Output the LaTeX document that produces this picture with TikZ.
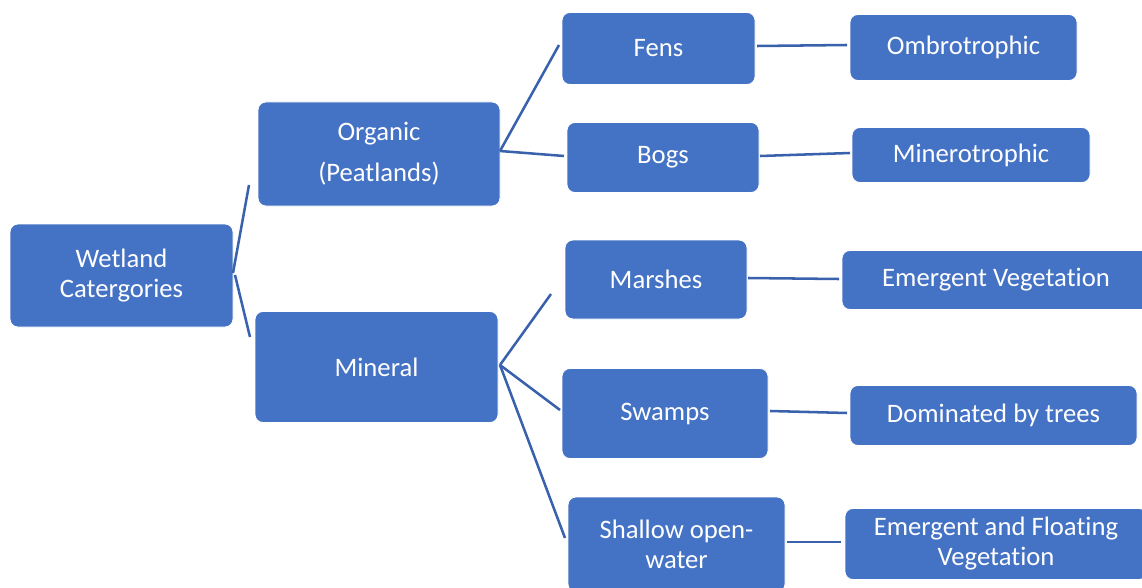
\documentclass[tikz,border=0pt]{standalone}
\usepackage{fontspec}
\setmainfont[Ligatures={NoCommon}]{Carlito}
\definecolor{boxblue}{HTML}{4472C4}
\definecolor{linkblue}{HTML}{3A62AC}
\begin{document}
\begin{tikzpicture}[x=0.75pt,y=-0.75pt,
  box/.style={fill=boxblue,draw=white,line width=0.6pt,rounded corners=6pt,
    text=white,align=center,inner sep=0pt,font=\fontsize{20pt}{22.5pt}\selectfont},
  link/.style={draw=linkblue,line width=1.9pt}]
\useasboundingbox (0,0) rectangle (1142,588);
% level 0
\node[box,minimum width=167.25pt,minimum height=77.25pt] (wet) at (121.5,275.5) {Wetland\\Catergories};
% level 1
\node[box,minimum width=181.5pt,minimum height=78pt,font=\fontsize{20pt}{30.75pt}\selectfont] (org) at (379,154) {Organic\\(Peatlands)};
\node[box,minimum width=182.25pt,minimum height=83.25pt] (min) at (376.5,367) {Mineral};
% level 2
\node[box,minimum width=144.75pt,minimum height=54pt] (fens) at (658.5,48.5) {Fens};
\node[box,minimum width=144pt,minimum height=52.5pt] (bogs) at (663,157.5) {Bogs};
\node[box,minimum width=136.5pt,minimum height=59.25pt] (mar) at (656,279.5) {Marshes};
\node[box,minimum width=154.5pt,minimum height=67.5pt] (swa) at (665,413.5) {Swamps};
\node[box,minimum width=162.75pt,minimum height=71.25pt] (sha) at (676.5,544.5) {};
\node[text=white,align=center,inner sep=0pt,font=\fontsize{20pt}{22.5pt}\selectfont] (shat) at (676.5,544) {Shallow open-\\water};
% level 3
\node[box,minimum width=170.25pt,minimum height=49.5pt] (omb) at (963.5,47.5) {Ombrotrophic};
\node[box,minimum width=178.5pt,minimum height=41.25pt] (mnt) at (971,155) {Minerotrophic};
\node[box,minimum width=231pt,minimum height=44.25pt] (ev) at (996,280) {Emergent Vegetation};
\node[box,minimum width=215.25pt,minimum height=45pt] (dom) at (993.5,415.5) {Dominated by trees};
\node[box,minimum width=226.5pt,minimum height=53.25pt] (eaf) at (996,544) {Emergent and Floating\\Vegetation};
% free ends of connectors
\coordinate (w0) at (233,273);
\coordinate (w1) at (235,275);
\coordinate (wo) at (249,185);
\coordinate (wm) at (250,337);
\coordinate (o0) at (500,151);
\coordinate (of) at (559,45);
\coordinate (ob) at (564,156);
\coordinate (m0) at (500,365);
\coordinate (mm) at (551,294);
\coordinate (ms) at (560,410);
\coordinate (mh) at (565,538);
\coordinate (f1) at (757,46);   \coordinate (f2) at (847,45);
\coordinate (b1) at (760,156);  \coordinate (b2) at (850,153);
\coordinate (r1) at (748,278);  \coordinate (r2) at (839,279);
\coordinate (s1) at (770,411);  \coordinate (s2) at (847,413);
\coordinate (h1) at (787,542);  \coordinate (h2) at (841,542);
% connectors
\draw[link] (w0) -- (wo);
\draw[link] (w1) -- (wm);
\draw[link] (o0) -- (of);
\draw[link] (o0) -- (ob);
\draw[link] (m0) -- (mm);
\draw[link] (m0) -- (ms);
\draw[link] (m0) -- (mh);
\draw[link] (f1) -- (f2);
\draw[link] (b1) -- (b2);
\draw[link] (r1) -- (r2);
\draw[link] (s1) -- (s2);
\draw[link] (h1) -- (h2);
\end{tikzpicture}
\end{document}
